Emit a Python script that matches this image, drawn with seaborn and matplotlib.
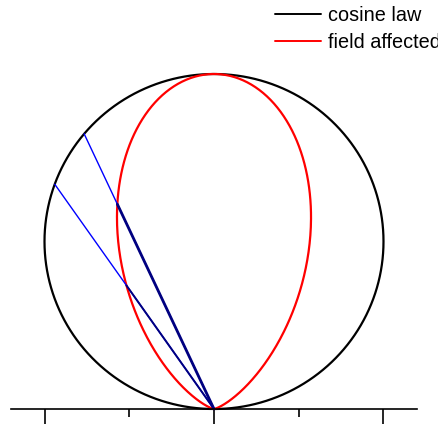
import numpy as np
import pandas as pd
import matplotlib
matplotlib.use("Agg")
import matplotlib.pyplot as plt
import seaborn as sns

# Emission patterns in polar form, angle measured from the surface normal
view_angles_deg = [25, 35]          # two viewing directions
field_exponent = 4                  # field-affected lobe: r = cos(theta)**n
series_labels = ["cosine law", "field affected"]
series_colors = ["black", "red"]

theta = np.linspace(-np.pi / 2, np.pi / 2, 721)


def polar_xy(r, th):
    return -r * np.sin(th), r * np.cos(th)


sns.set_theme(style="white")
plt.rcParams["font.family"] = ["Liberation Sans", "DejaVu Sans"]

fig = plt.figure(figsize=(4.39, 4.25), dpi=100)
ax = fig.add_axes([0, 0, 1, 1])

rows = []
for label, power in zip(series_labels, [1, field_exponent]):
    x, y = polar_xy(np.cos(theta) ** power, theta)
    rows.append(pd.DataFrame({"x": x, "y": y, "series": label}))
curves = pd.concat(rows, ignore_index=True)

for label, color in zip(series_labels, series_colors):
    sub = curves[curves["series"] == label]
    sns.lineplot(data=sub, x="x", y="y", sort=False, estimator=None, color=color,
                 lw=1.6, label=label, ax=ax)

# Viewing rays: to the cosine circle (blue) and to the field-affected lobe (navy)
for ang, navy_lw in zip(view_angles_deg, [2.0, 1.4]):
    th = np.deg2rad(ang)
    r_cos = np.cos(th)
    r_fld = np.cos(th) ** field_exponent
    bx, by = polar_xy(np.array([0.0, r_cos]), th)
    nx, ny = polar_xy(np.array([0.0, r_fld]), th)
    sns.lineplot(x=bx, y=by, sort=False, estimator=None, color="blue", lw=1.0, ax=ax, legend=False)
    sns.lineplot(x=nx, y=ny, sort=False, estimator=None, color="navy", lw=navy_lw, ax=ax, legend=False)

ax.set_xlim(-214 / 339, 225 / 339)
ax.set_ylim(-16 / 335, 409 / 335)
ax.set_xlabel("")
ax.set_ylabel("")

for side in ["top", "right", "left"]:
    ax.spines[side].set_visible(False)
ax.spines["bottom"].set_position(("data", 0))
ax.spines["bottom"].set_bounds(-0.6, 0.6)
ax.spines["bottom"].set_linewidth(1.2)
ax.spines["bottom"].set_color("black")
ax.set_yticks([])
ax.set_xticks([-0.5, 0, 0.5])
ax.set_xticks([-0.25, 0.25], minor=True)
ax.tick_params(axis="x", which="major", direction="out", length=11, width=1.2,
               color="black", labelbottom=False, bottom=True)
ax.tick_params(axis="x", which="minor", direction="out", length=5.5, width=1.2,
               color="black", bottom=True)
ax.set_facecolor("white")

leg = ax.legend(loc="upper left", bbox_to_anchor=(275 / 439, 1 - 6 / 425),
                bbox_transform=fig.transFigure, frameon=False, fontsize=14.3,
                handlelength=2.3, handletextpad=0.35, labelspacing=0.4,
                borderpad=0, borderaxespad=0, labelcolor="black")
for h in leg.get_lines():
    h.set_linewidth(1.4)

fig.savefig("out.png", dpi=100)
